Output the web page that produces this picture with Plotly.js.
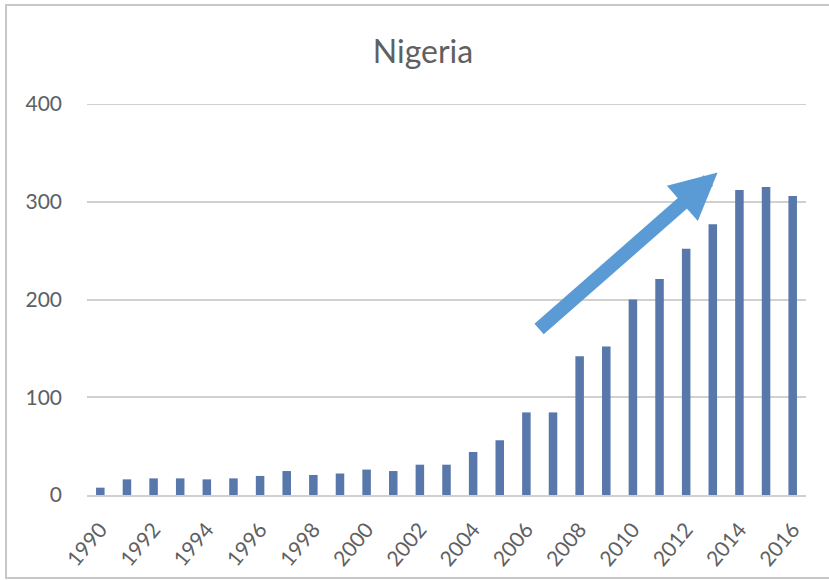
<!DOCTYPE html>
<html>
<head>
<meta charset="utf-8">
<script src="https://cdn.plot.ly/plotly-3.0.1.min.js"></script>
<style>html,body{margin:0;padding:0;background:#fff;}#chart{width:829px;height:580px;}</style>
</head>
<body>
<div id="chart"></div>
<script>
const years = [1990,1991,1992,1993,1994,1995,1996,1997,1998,1999,2000,2001,2002,2003,2004,2005,2006,2007,2008,2009,2010,2011,2012,2013,2014,2015,2016];
const values = [7.5,16,17,17,16,17,19.5,24.5,20.5,22,26,24.5,31,31,44,56,84.5,84.5,142,152,200,221,252,277,312,315,306];
const yTicks = [0,100,200,300,400];
const chartTitle = "Nigeria";

const font = "Lato, 'Open Sans', sans-serif";
const textColor = "#606060";

const L = 87, R = 806, T = 104, B = 495;
const pw = R - L, ph = B - T;
function px(x){ return (x - L) / pw; }
function py(y){ return (B - y) / ph; }

const trace = {
  type: "bar",
  x: years,
  y: values,
  marker: {color: "#5877AB"},
  hoverinfo: "x+y"
};

const layout = {
  width: 829, height: 580,
  margin: {l: L, r: 829 - R, t: T, b: 580 - B},
  paper_bgcolor: "#fff",
  plot_bgcolor: "#fff",
  bargap: 0.68,
  showlegend: false,
  title: {
    text: chartTitle,
    font: {family: font, size: 32, color: textColor},
    x: 423/829, xanchor: "center",
    y: 1 - 52/580, yanchor: "middle"
  },
  xaxis: {
    range: [1989.5, 2016.5],
    tickmode: "array",
    tickvals: years.filter((y, i) => i % 2 === 0),
    ticktext: years.filter((y, i) => i % 2 === 0).map(String),
    tickangle: -50,
    tickfont: {family: font, size: 21, color: textColor},
    ticklabelstandoff: 12,
    showgrid: false,
    zeroline: false,
    showline: true,
    linecolor: "#d0d0d0",
    linewidth: 2,
    ticks: "",
    fixedrange: true
  },
  yaxis: {
    range: [0, 400],
    tickmode: "array",
    tickvals: yTicks,
    ticktext: yTicks.map(String),
    tickfont: {family: font, size: 21, color: textColor},
    showgrid: true,
    gridcolor: "#d0d0d0",
    gridwidth: 2,
    zeroline: false,
    showline: false,
    ticks: "",
    ticklabelstandoff: 24,
    fixedrange: true
  },
  shapes: [{
    type: "rect", xref: "paper", yref: "paper",
    x0: px(6), x1: px(840), y0: py(578), y1: py(5),
    line: {color: "#c8c8c8", width: 2},
    fillcolor: "rgba(0,0,0,0)",
    layer: "below"
  }, {
    type: "line", xref: "paper", yref: "y",
    x0: 0, x1: 1, y0: yTicks[yTicks.length - 1], y1: yTicks[yTicks.length - 1],
    line: {color: "#d0d0d0", width: 2},
    layer: "below"
  }],
  annotations: [{
    xref: "x", yref: "y",
    x: 2013.18, y: 330,
    axref: "pixel", ayref: "pixel",
    ax: -180, ay: 158,
    text: "",
    showarrow: true,
    arrowhead: 2,
    arrowwidth: 14,
    arrowsize: 0.67,
    arrowcolor: "#5B9BD5"
  }]
};

Plotly.newPlot("chart", [trace], layout, {displayModeBar: false, staticPlot: true});
</script>
</body>
</html>
